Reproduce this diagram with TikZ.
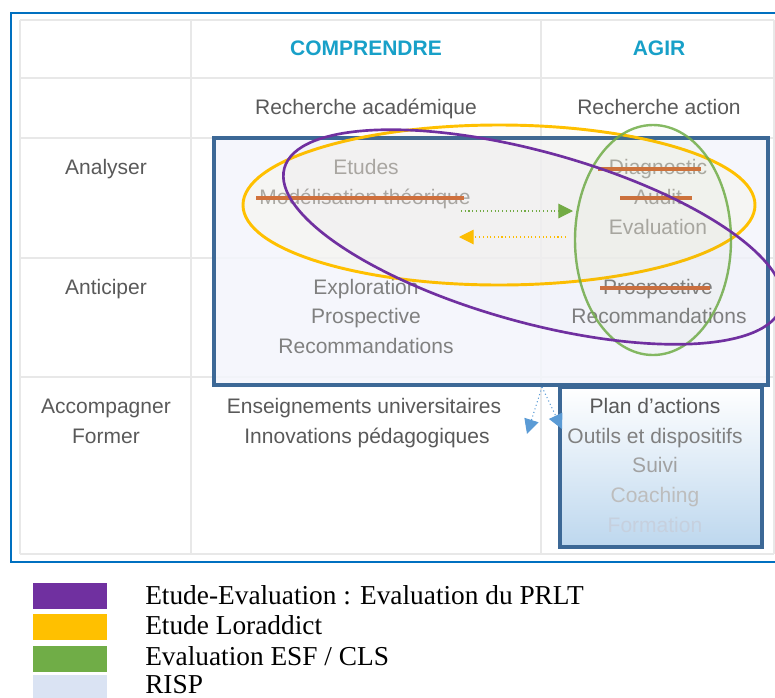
\documentclass[tikz,border=0pt]{standalone}
\usepackage{fontspec}
\setmainfont{Liberation Serif}
\setsansfont{Liberation Sans}
\usepackage{tikz}
\usetikzlibrary{arrows.meta, positioning, calc}
\usepackage{xcolor}

\definecolor{frameblue}{RGB}{0,112,192}
\definecolor{gridgray}{RGB}{232,232,232}
\definecolor{boxedge}{RGB}{60,104,150}
\definecolor{boxfill}{RGB}{243,245,251}
\definecolor{headblue}{RGB}{24,160,200}
\definecolor{txtdark}{RGB}{89,89,89}
\definecolor{txtmid}{RGB}{128,128,128}
\definecolor{txtlight}{RGB}{168,168,168}
\definecolor{strikeor}{RGB}{208,112,62}
\definecolor{prltpurple}{RGB}{112,48,160}
\definecolor{lorgold}{RGB}{255,192,0}
\definecolor{esfgreen}{RGB}{112,173,71}
\definecolor{risplight}{RGB}{218,227,243}
\definecolor{arrowblue}{RGB}{91,155,213}
\definecolor{coachblue}{RGB}{189,215,238}
\definecolor{fadedtxt}{RGB}{198,208,222}

\begin{document}
\begin{tikzpicture}[
    x=0.75pt, y=-0.75pt,
    cell/.style={inner sep=0pt, anchor=base, font=\fontsize{15.75}{22.5}\selectfont\sffamily, text=txtdark},
    head/.style={cell, font=\fontsize{15.75}{22.5}\selectfont\sffamily\bfseries, text=headblue},
    strike/.style={line width=2.4pt, strikeor},
    flow/.style={dotted, line width=0.8pt, -{Triangle[length=11pt, width=11pt]}},
    swatch/.style={rectangle, minimum width=55.5pt, minimum height=19.5pt, inner sep=0pt},
    legtext/.style={anchor=base west, inner sep=0pt, font=\fontsize{20.5}{24}\selectfont}
]
    \useasboundingbox (0,0) rectangle (775,697);

    % Outer frame
    \draw[frameblue, line width=1.5pt] (11,13) rectangle (790,562);

    % Table grid lines
    \foreach \x in {20,191,541,774} {
        \draw[gridgray, line width=0.8pt] (\x,20) -- (\x,554);
    }
    \foreach \y in {20,78,138,258,377,554} {
        \draw[gridgray, line width=0.8pt] (20,\y) -- (774,\y);
    }

    % RISP boxes
    \draw[boxedge, line width=2.6pt, fill=boxfill, fill opacity=0.85] (214,138) rectangle (768,385);
    \draw[boxedge, line width=2.6pt, top color=white, bottom color=coachblue] (560,387) rectangle (762,547);

    % Column headers
    \node[head] (comprendre) at (366,55) {COMPRENDRE};
    \node[head] (agir) at (659,55) {AGIR};
    \node[cell] (academique) at (366,114) {Recherche académique};
    \node[cell] (action) at (659,114) {Recherche action};

    % Row labels
    \node[cell] (analyser) at (106,174) {Analyser};
    \node[cell] (anticiper) at (106,294) {Anticiper};
    \node[cell] (accompagner) at (106,413) {Accompagner};
    \node[cell] (former) at (106,443) {Former};

    % Analyser row
    \node[cell, text=txtlight] (etudes) at (366,174) {Etudes};
    \node[cell, text=txtlight] (modelisation) at (365,204) {Modélisation théorique};
    \node[cell, text=txtlight] (diagnostic) at (658,174) {Diagnostic};
    \node[cell, text=txtlight] (audit) at (658,204) {Audit};
    \node[cell, text=txtlight] (evaluation) at (658,234) {Evaluation};
    \draw[strike] (256,198) -- (464,198);
    \draw[strike] (598,169) -- (701,169);
    \draw[strike] (620,198) -- (692,198);

    % Anticiper row
    \node[cell, text=txtmid] (exploration) at (366,294) {Exploration};
    \node[cell, text=txtmid] (prospectiveL) at (366,323) {Prospective};
    \node[cell, text=txtmid] (recoL) at (366,353) {Recommandations};
    \node[cell, text=txtmid] (prospectiveR) at (658,294) {Prospective};
    \node[cell, text=txtmid] (recoR) at (659,323) {Recommandations};
    \draw[strike] (600,288) -- (710,288);

    % Accompagner row
    \node[cell] (enseignements) at (364,413) {Enseignements universitaires};
    \node[cell] (innovations) at (367,443) {Innovations pédagogiques};
    \foreach \i/\t/\c/\y in {1/{Plan d’actions}/txtdark/413, 2/{Outils et dispositifs}/txtmid/443,
                             3/Suivi/black!37/472, 4/Coaching/black!26/502, 5/Formation/fadedtxt/532} {
        \node[cell, text=\c] (act\i) at (655,\y) {\t};
    }

    % Dotted exchange arrows
    \coordinate (gstart) at (461,211);
    \coordinate (gend) at (573,211);
    \coordinate (ystart) at (566,237);
    \coordinate (yend) at (459,237);
    \draw[flow, esfgreen] (gstart) -- (gend);
    \draw[flow, lorgold] (ystart) -- (yend);

    \coordinate (split) at (542,387);
    \coordinate (toleft) at (527,434);
    \coordinate (toright) at (562,429);
    \draw[flow, arrowblue] (split) -- (toleft);
    \draw[flow, arrowblue] (split) -- (toright);

    % Study ellipses
    \draw[lorgold, line width=2.2pt, fill=lorgold, fill opacity=0.03] (499,205) ellipse [x radius=192pt, y radius=60pt];
    \draw[esfgreen, line width=1.8pt, draw opacity=0.85, fill=esfgreen, fill opacity=0.03] (653,240) ellipse [x radius=58.5pt, y radius=86.25pt];
    \draw[prltpurple, line width=2pt, fill=prltpurple, fill opacity=0.015, rotate around={-15.5:(533,237)}] (533,237) ellipse [x radius=193.5pt, y radius=64pt];

    % Legend
    \foreach \i/\c/\y/\b/\t in {1/prltpurple/596/604/{Etude-Evaluation : Evaluation du PRLT},
                                2/lorgold/627/634/{Etude Loraddict},
                                3/esfgreen/659/665/{Evaluation ESF / CLS},
                                4/risplight/688/693/{RISP}} {
        \node[swatch, fill=\c] (key\i) at (70,\y) {};
        \node[legtext] (label\i) at (145,\b) {\t};
    }

\end{tikzpicture}
\end{document}
